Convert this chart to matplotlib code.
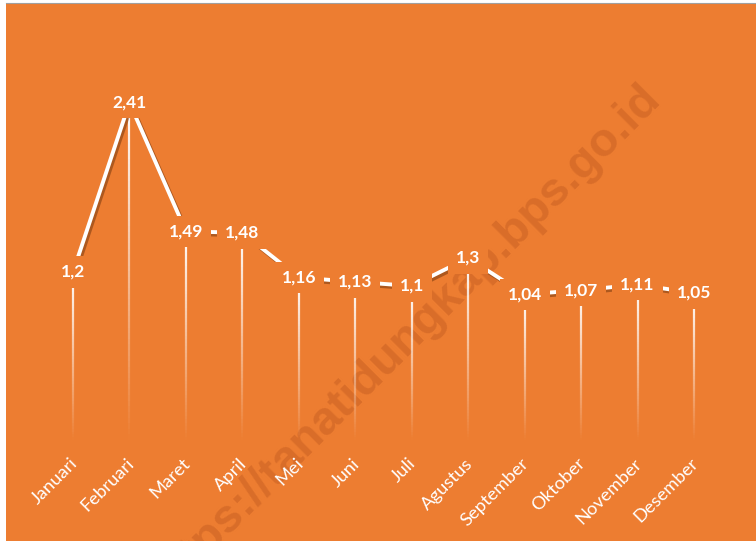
import matplotlib
matplotlib.use("Agg")
import matplotlib.pyplot as plt
import matplotlib.patheffects as pe
import matplotlib.transforms as mtransforms
from matplotlib.patches import Rectangle
from matplotlib.collections import LineCollection
import numpy as np

months = ["Januari", "Februari", "Maret", "April", "Mei", "Juni", "Juli",
          "Agustus", "September", "Oktober", "November", "Desember"]
values = [1.2, 2.41, 1.49, 1.48, 1.16, 1.13, 1.1, 1.3, 1.04, 1.07, 1.11, 1.05]
value_labels = ["1,2", "2,41", "1,49", "1,48", "1,16", "1,13", "1,1", "1,3",
                "1,04", "1,07", "1,11", "1,05"]
watermark = "https://tanatidungkap.bps.go.id"

BG = "#ED7D31"
W, H = 756, 541
plt.rcParams['font.family'] = ['Lato', 'DejaVu Sans']

fig = plt.figure(figsize=(W / 100, H / 100), dpi=100)
fig.patch.set_facecolor("white")

bg = fig.add_axes([0, 0, 1, 1], zorder=-5)
bg.set_xlim(0, W)
bg.set_ylim(H, 0)
bg.axis("off")
bg.add_patch(Rectangle((6, 3), W - 6, H - 3, facecolor=BG, edgecolor="none"))
bg.plot([6, W], [2.5, 2.5], color="#A0A0A0", lw=0.8)

ax = fig.add_axes([44.8 / W, 1 - 440 / H, (722.2 - 44.8) / W, 420 / H], zorder=1)
ax.set_facecolor("none")
ax.set_xlim(-0.5, len(months) - 0.5)
ax.set_ylim(0, 3.0)
for s in ax.spines.values():
    s.set_visible(False)
ax.set_yticks([])

x = np.arange(len(months))

# fading drop lines
for xi, v in zip(x, values):
    n = 60
    ys = np.linspace(v, 0, n + 1)
    segs = [[(xi, ys[k]), (xi, ys[k + 1])] for k in range(n)]
    alphas = [(ys[k] + ys[k + 1]) / 2 / v for k in range(n)]
    cols = [(1, 1, 1, a) for a in alphas]
    ax.add_collection(LineCollection(segs, colors=cols, linewidths=1.6, zorder=2))

# main line with shadow
ax.plot(x, values, color="white", lw=2.8, zorder=3, solid_capstyle="butt",
        path_effects=[pe.SimpleLineShadow(offset=(1.5, -1.8), shadow_color="#7A3A10", alpha=0.55),
                      pe.Normal()])

for xi, v, lab in zip(x, values, value_labels):
    ax.text(xi, v, lab, ha="center", va="center", color="white", fontsize=12.5,
            fontweight="bold", zorder=5,
            bbox=dict(boxstyle="square,pad=0.45", fc=BG, ec="none"))

ax.set_xticks(x)
ax.set_xticklabels(months, rotation=45, ha="right", va="top", rotation_mode="anchor",
                   color="white", fontsize=13.2)
ax.tick_params(axis="x", length=0, pad=11)
shift = mtransforms.ScaledTranslation(-4 / 100, 0, fig.dpi_scale_trans)
for lbl in ax.get_xticklabels():
    lbl.set_transform(lbl.get_transform() + shift)

fig.text(405 / W, 1 - 340 / H, watermark, rotation=45, rotation_mode="anchor",
         ha="center", va="center", fontsize=34, fontweight="bold",
         family=["Liberation Sans", "DejaVu Sans"], color="#B4501A", alpha=0.35, zorder=0)

fig.savefig("out.png", dpi=100, facecolor=fig.get_facecolor())
